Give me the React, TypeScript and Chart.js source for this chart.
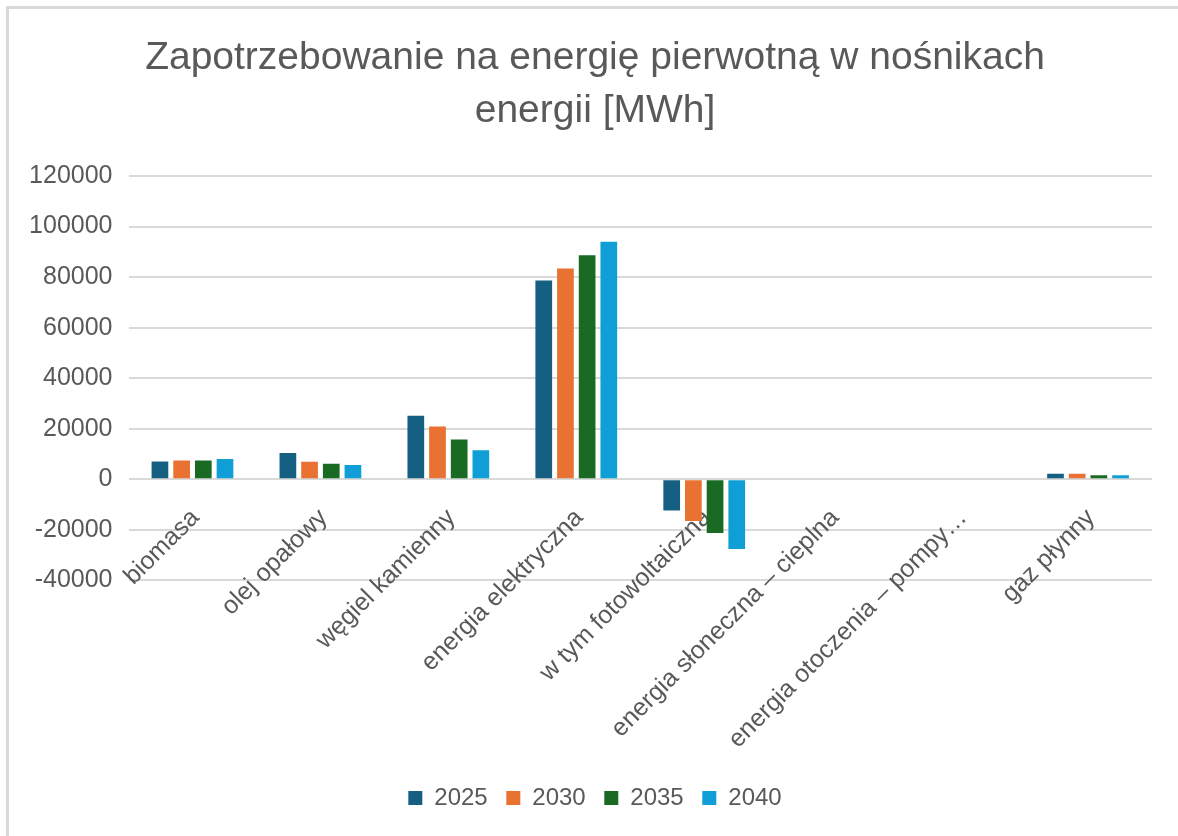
import React, { useEffect, useRef } from "react";
import { Chart, registerables } from "chart.js";

Chart.register(...registerables);

const categories = [
  "biomasa",
  "olej opałowy",
  "węgiel kamienny",
  "energia elektryczna",
  "w tym fotowoltaiczna",
  "energia słoneczna – cieplna",
  "energia otoczenia – pompy…",
  "gaz płynny",
];

const seriesNames = ["2025", "2030", "2035", "2040"];
const values2025 = [7000, 10400, 25100, 78700, -12300, 0, 0, 2200];
const values2030 = [7400, 6900, 20900, 83400, -16500, 0, 0, 2200];
const values2035 = [7400, 6200, 15700, 88600, -21200, 0, 0, 1600];
const values2040 = [8000, 5700, 11500, 94000, -27600, 0, 0, 1600];
const seriesColors = ["#156082", "#E97132", "#196B24", "#0F9ED5"];

const yTickValues = [-40000, -20000, 0, 20000, 40000, 60000, 80000, 100000, 120000];
const titleLines = ["Zapotrzebowanie na energię pierwotną w nośnikach", "energii [MWh]"];

const TEXT = "#595959";
const FONT = "'Liberation Sans', Arial, sans-serif";

export default function App() {
  const ref = useRef<HTMLCanvasElement | null>(null);

  useEffect(() => {
    if (!ref.current) return;
    const allValues = [values2025, values2030, values2035, values2040];
    const unclipYLabels = {
      id: "unclipYLabels",
      afterLayout(chart: any) {
        if (chart.scales.y) chart.scales.y.left = 0;
      },
    };
    const chart = new Chart(ref.current, {
      type: "bar",
      data: {
        labels: categories,
        datasets: seriesNames.map((name, i) => ({
          label: name,
          data: allValues[i],
          backgroundColor: seriesColors[i],
          borderWidth: 0,
          categoryPercentage: 0.678,
          barPercentage: 0.77,
        })),
      },
      plugins: [unclipYLabels],
      options: {
        animation: false,
        responsive: false,
        maintainAspectRatio: false,
        layout: { padding: { left: 38, right: 26, top: 0, bottom: 16 } },
        plugins: {
          title: {
            display: true,
            text: titleLines,
            color: TEXT,
            font: { family: FONT, size: 39, weight: "normal", lineHeight: 53 / 39 },
            padding: { top: 32, bottom: 38 },
          },
          subtitle: {
            display: true,
            text: "",
            position: "bottom",
            weight: 500,
            font: { size: 10, lineHeight: 1 },
            padding: { top: 177, bottom: 0 },
          },
          legend: {
            display: true,
            position: "bottom",
            labels: {
              boxWidth: 14,
              boxHeight: 14,
              padding: 18.6,
              color: TEXT,
              font: { family: FONT, size: 24 },
            },
          },
          tooltip: { enabled: false },
        },
        scales: {
          x: {
            type: "category",
            position: { y: 0 } as any,
            grid: { display: false },
            border: { display: false },
            ticks: {
              autoSkip: false,
              minRotation: 45,
              maxRotation: 45,
              padding: 16,
              labelOffset: 3,
              color: TEXT,
              font: { family: FONT, size: 25 },
            },
          },
          y: {
            min: -40000,
            max: 120000,
            afterBuildTicks: (scale: any) => {
              scale.ticks = yTickValues.map((v) => ({ value: v }));
            },
            afterFit: (scale: any) => {
              scale.width = 90.5;
            },
            grid: { color: "#d9d9d9", lineWidth: 2, drawTicks: false },
            border: { display: false },
            ticks: {
              padding: 16,
              color: TEXT,
              font: { family: FONT, size: 25 },
              callback: (v: any) => String(v),
            },
          },
        },
      },
    });
    return () => chart.destroy();
  }, []);

  return (
    <div
      style={{
        position: "fixed",
        left: 0,
        top: 0,
        width: 1178,
        height: 836,
        overflow: "hidden",
        background: "#ffffff",
      }}
    >
      <canvas
        ref={ref}
        width={1178}
        height={836}
        style={{ position: "absolute", left: 0, top: 0, width: 1178, height: 836 }}
      />
      <div
        style={{
          position: "absolute",
          left: 6,
          top: 6,
          width: 1300,
          height: 1000,
          border: "3px solid #d9d9d9",
          pointerEvents: "none",
        }}
      />
    </div>
  );
}
